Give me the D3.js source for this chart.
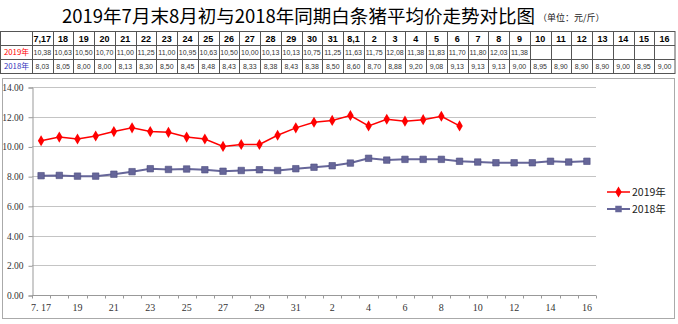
<!DOCTYPE html>
<html>
<head>
<meta charset="utf-8">
<script src="https://cdn.jsdelivr.net/npm/d3@7"></script>
<style>
  html, body { margin: 0; padding: 0; background: #fff; }
  svg { display: block; }
</style>
</head>
<body>
<svg id="chart" width="678" height="324"></svg>
<script>
// ---- data ----
const categories = ["7.17","18","19","20","21","22","23","24","25","26","27","28","29","30","31",
                    "8.1","2","3","4","5","6","7","8","9","10","11","12","13","14","15","16"];
const price2019 = [10.38,10.63,10.50,10.70,11.00,11.25,11.00,10.95,10.63,10.50,10.00,10.13,10.13,10.75,
                   11.25,11.63,11.75,12.08,11.38,11.83,11.70,11.80,12.03,11.38];
const price2018 = [8.03,8.05,8.00,8.00,8.13,8.30,8.50,8.45,8.48,8.43,8.33,8.38,8.43,8.38,8.50,
                   8.60,8.70,8.88,9.20,9.08,9.13,9.13,9.13,9.00,8.95,8.90,8.90,8.90,9.00,8.95,9.00];
const seriesNames = ["2019年", "2018年"];
const yTicks = [0, 2, 4, 6, 8, 10, 12, 14];
const xTickLabels = ["7. 17","19","21","23","25","27","29","31","2","4","6","8","10","12","14","16"];
const titleText = "2019年7月末8月初与2018年同期白条猪平均价走势对比图";
const unitText = "（单位：元/斤）";

// ---- drawing ----
const svg = d3.select("#chart");
const red = "#ff0000", blue = "#666699";
const fmt = d3.format(".2f");
const cellFmt = v => fmt(v).replace(".", ",");

// title
svg.append("text").attr("x", 62).attr("y", 23)
  .attr("textLength", 473).attr("lengthAdjust", "spacingAndGlyphs")
  .style("font-family", "'Noto Sans CJK SC', sans-serif").style("font-size", "18px")
  .style("font-weight", "normal").attr("fill", "#000").text(titleText);
svg.append("text").attr("x", 538).attr("y", 21)
  .style("font-family", "'Noto Sans CJK SC', sans-serif").style("font-size", "9px")
  .attr("fill", "#222").text(unitText);

// table
const tx = d3.scaleBand().domain(categories).range([32, 675]);
const rowY = [31, 45, 59, 73];
const tbl = svg.append("g");
tbl.append("rect").attr("x", 0.5).attr("y", rowY[0] + 0.5).attr("width", 674.5).attr("height", rowY[3] - rowY[0])
  .attr("fill", "#fff").attr("stroke", "#555");
rowY.slice(1, 3).forEach(y => tbl.append("line").attr("x1", 0).attr("x2", 675)
  .attr("y1", y + 0.5).attr("y2", y + 0.5).attr("stroke", "#555"));
categories.forEach(c => tbl.append("line").attr("x1", Math.round(tx(c)) + 0.5).attr("x2", Math.round(tx(c)) + 0.5)
  .attr("y1", rowY[0]).attr("y2", rowY[3]).attr("stroke", "#555"));
tbl.selectAll("text.h").data(categories).join("text").attr("class", "h")
  .attr("x", d => tx(d) + tx.bandwidth() / 2).attr("y", rowY[0] + 10.5)
  .attr("text-anchor", "middle").style("font-family", "'Liberation Sans', Arial, sans-serif")
  .style("font-size", "9px").style("font-weight", "bold").text(d => d.replace(".", ","));
[[price2019, red, seriesNames[0]], [price2018, "#3333bb", seriesNames[1]]].forEach(([vals, col, name], i) => {
  const y = rowY[i + 1] + 10;
  tbl.append("text").attr("x", 16.5).attr("y", y).attr("text-anchor", "middle")
    .style("font-family", "'Noto Sans CJK SC', sans-serif").style("font-size", "7.8px").attr("fill", col).text(name);
  tbl.selectAll("text.v" + i).data(vals).join("text").attr("class", "v" + i)
    .attr("x", (d, j) => tx(categories[j]) + tx.bandwidth() / 2).attr("y", y)
    .attr("text-anchor", "middle").style("font-family", "'Liberation Sans', Arial, sans-serif")
    .style("font-size", "7px").attr("fill", "#333").text(cellFmt);
});

// chart frame
svg.append("rect").attr("x", 2.5).attr("y", 78.5).attr("width", 672).attr("height", 240)
  .attr("fill", "#fff").attr("stroke", "#aaa");

const x = d3.scaleBand().domain(categories).range([32, 596]);
const y = d3.scaleLinear().domain([0, 14]).range([295, 87]);
const cx = d => x(d) + x.bandwidth() / 2;

// grid
svg.append("g").selectAll("line").data(yTicks.filter(d => d > 0)).join("line")
  .attr("x1", 32).attr("x2", 596).attr("y1", d => Math.round(y(d)) + 0.5).attr("y2", d => Math.round(y(d)) + 0.5)
  .attr("stroke", "#c4c4c4");

// y axis
const yAxis = svg.append("g").attr("transform", "translate(32.5,0.5)")
  .call(d3.axisLeft(y).tickValues(yTicks).tickFormat(fmt).tickSize(4).tickPadding(5));
yAxis.select(".domain").attr("stroke", "#999");
yAxis.selectAll(".tick line").attr("stroke", "#999");
yAxis.selectAll("text").style("font-family", "'Liberation Serif', serif").style("font-size", "9.5px").attr("fill", "#333");

// x axis
const xAxis = svg.append("g").attr("transform", "translate(0," + (Math.round(y(0)) + 0.5) + ")");
xAxis.append("line").attr("x1", 32).attr("x2", 596).attr("stroke", "#999");
xAxis.selectAll("line.tk").data(categories.concat(["__end"])).join("line").attr("class", "tk")
  .attr("x1", d => d === "__end" ? 596.5 : Math.round(x(d)) + 0.5)
  .attr("x2", d => d === "__end" ? 596.5 : Math.round(x(d)) + 0.5)
  .attr("y1", 0).attr("y2", 3).attr("stroke", "#999");
xAxis.selectAll("text").data(categories.filter((d, i) => i % 2 === 0)).join("text")
  .attr("x", d => cx(d)).attr("y", 15).attr("text-anchor", "middle")
  .style("font-family", "'Liberation Serif', serif").style("font-size", "10px").attr("fill", "#333")
  .text((d, i) => xTickLabels[i]);

// lines
const line = d3.line().x((d, i) => cx(categories[i])).y(d => y(d));
svg.append("path").datum(price2018).attr("d", line).attr("fill", "none").attr("stroke", blue).attr("stroke-width", 2);
svg.append("path").datum(price2019).attr("d", line).attr("fill", "none").attr("stroke", red).attr("stroke-width", 1.5);
svg.append("g").selectAll("path").data(price2018).join("path")
  .attr("transform", (d, i) => `translate(${cx(categories[i])},${y(d)})`)
  .attr("d", d3.symbol(d3.symbolSquare, 42)).attr("fill", blue).attr("stroke", "#4d4d80").attr("stroke-width", 0.6);
svg.append("g").selectAll("path").data(price2019).join("path")
  .attr("transform", (d, i) => `translate(${cx(categories[i])},${y(d)})`)
  .attr("d", d3.symbol(d3.symbolDiamond, 36)).attr("fill", red);

// legend
const leg = svg.append("g");
[[seriesNames[0], red, d3.symbolDiamond, 36, 1.5, 192], [seriesNames[1], blue, d3.symbolSquare, 42, 2, 209]]
  .forEach(([name, col, sym, size, sw, ly]) => {
    leg.append("line").attr("x1", 607).attr("x2", 630).attr("y1", ly).attr("y2", ly).attr("stroke", col).attr("stroke-width", sw);
    leg.append("path").attr("transform", `translate(618.5,${ly})`).attr("d", d3.symbol(sym, size)).attr("fill", col);
    leg.append("text").attr("x", 632).attr("y", ly + 4)
      .style("font-family", "'Noto Sans CJK SC', sans-serif").style("font-size", "10.5px").attr("fill", "#222").text(name);
  });
</script>
</body>
</html>
